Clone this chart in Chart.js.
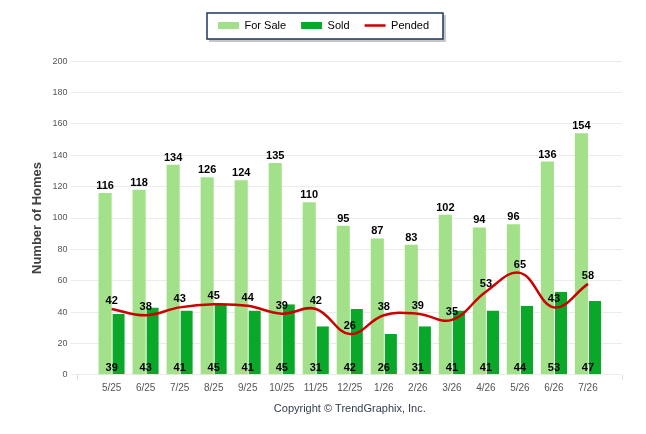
<!DOCTYPE html>
<html>
<head>
<meta charset="utf-8">
<title>Homes For Sale, Sold and Pended</title>
<script src="https://cdn.jsdelivr.net/npm/chart.js@4"></script>
<style>
  html, body { margin: 0; padding: 0; background: #fff; }
  #wrap { width: 646px; height: 434px; }
</style>
</head>
<body>
<div id="wrap"><canvas id="homesChart"></canvas></div>
<script>
const months = ['5/25', '6/25', '7/25', '8/25', '9/25', '10/25', '11/25', '12/25',
                '1/26', '2/26', '3/26', '4/26', '5/26', '6/26', '7/26'];
const forSale = [116, 118, 134, 126, 124, 135, 110, 95, 87, 83, 102, 94, 96, 136, 154];
const sold    = [39, 43, 41, 45, 41, 45, 31, 42, 26, 31, 41, 41, 44, 53, 47];
const pended  = [42, 38, 43, 45, 44, 39, 42, 26, 38, 39, 35, 53, 65, 43, 58];
const yMin = 0, yMax = 200, yStep = 20;

// the original axis keeps one empty slot before the first and after the last month
const labels = ['', ...months, ''];
const padded = arr => [null, ...arr, null];

const FONT = '"Liberation Sans", Arial, sans-serif';

// white box with a navy border and a small shadow behind the legend
const legendBox = {
  id: 'legendBox',
  beforeDraw(chart) {
    const boxes = chart.legend && chart.legend.legendHitBoxes;
    if (!boxes || !boxes.length) return;
    const first = boxes[0], last = boxes[boxes.length - 1];
    const left = first.left - 11;
    const right = last.left + last.width + 14;
    const top = first.top - 7;
    const bottom = first.top + first.height + 8;
    const ctx = chart.ctx;
    ctx.save();
    ctx.fillStyle = 'rgba(0,0,0,0.22)';
    ctx.fillRect(left + 2, top + 2, right - left + 1, bottom - top + 1);
    ctx.fillStyle = '#fff';
    ctx.fillRect(left, top, right - left, bottom - top);
    ctx.strokeStyle = '#1f3560';
    ctx.lineWidth = 1.5;
    ctx.strokeRect(left, top, right - left, bottom - top);
    ctx.restore();
  }
};

// numbers over the bars, at the foot of each month and over the line
const valueLabels = {
  id: 'valueLabels',
  afterDatasetsDraw(chart) {
    const {ctx, scales: {x, y}} = chart;
    ctx.save();
    ctx.font = 'bold 11px ' + FONT;
    ctx.fillStyle = '#000';
    ctx.textAlign = 'center';
    ctx.textBaseline = 'alphabetic';
    chart.data.datasets.forEach((ds, di) => {
      const meta = chart.getDatasetMeta(di);
      meta.data.forEach((el, i) => {
        const v = ds.data[i];
        if (v == null) return;
        if (ds.labelAt === 'base') {
          ctx.fillText(v, x.getPixelForValue(i), y.getPixelForValue(0) - 4);
        } else if (ds.labelAt === 'point') {
          ctx.fillText(v, el.x, el.y - 5);
        } else {
          ctx.fillText(v, el.x, el.y - 4);
        }
      });
    });
    ctx.restore();
  }
};

new Chart(document.getElementById('homesChart'), {
  data: {
    labels: labels,
    datasets: [
      {
        type: 'bar',
        label: 'For Sale',
        data: padded(forSale),
        backgroundColor: '#a2e08a',
        categoryPercentage: 0.77,
        barPercentage: 1.0,
        order: 1,
        labelAt: 'top'
      },
      {
        type: 'bar',
        label: 'Sold',
        data: padded(sold),
        backgroundColor: '#0aa829',
        borderColor: 'rgba(255,255,255,0.6)',
        borderWidth: {left: 1, top: 0, right: 0, bottom: 0},
        borderSkipped: false,
        categoryPercentage: 0.77,
        barPercentage: 1.0,
        order: 1,
        labelAt: 'base'
      },
      {
        type: 'line',
        label: 'Pended',
        data: padded(pended),
        borderColor: '#cc0000',
        backgroundColor: '#cc0000',
        borderWidth: 2.5,
        tension: 0.4,
        pointRadius: 0,
        pointHoverRadius: 0,
        fill: false,
        order: 0,
        labelAt: 'point'
      }
    ]
  },
  options: {
    responsive: true,
    maintainAspectRatio: false,
    animation: false,
    layout: {
      padding: {top: 5, left: 25, right: 24, bottom: 14}
    },
    plugins: {
      legend: {
        position: 'top',
        labels: {
          font: {family: FONT, size: 11},
          color: '#000',
          padding: 15,
          usePointStyle: true,
          pointStyleWidth: 21,
          boxHeight: 7,
          sort: (a, b) => a.datasetIndex - b.datasetIndex,
          generateLabels(chart) {
            return chart.data.datasets.map((ds, i) => ({
              text: ds.label,
              datasetIndex: i,
              fillStyle: ds.type === 'line' ? 'rgba(0,0,0,0)' : ds.backgroundColor,
              strokeStyle: ds.borderColor || ds.backgroundColor,
              lineWidth: ds.type === 'line' ? 2.5 : 0,
              pointStyle: ds.type === 'line' ? 'line' : 'rect',
              fontColor: '#000',
              hidden: !chart.isDatasetVisible(i)
            }));
          }
        }
      },
      // empty block that only makes room between the legend and the plot
      subtitle: {
        display: true,
        text: '',
        weight: 500,
        font: {size: 1},
        padding: {top: 19, bottom: 0}
      },
      tooltip: {enabled: false}
    },
    scales: {
      x: {
        offset: false,
        grid: {
          display: true,
          offset: false,
          drawOnChartArea: false,
          drawTicks: true,
          tickLength: 5,
          color: c => (c.index === 0 || c.index === labels.length - 1) ? '#dddddd' : 'rgba(0,0,0,0)'
        },
        border: {display: false},
        ticks: {
          autoSkip: false,
          maxRotation: 0,
          padding: 2,
          color: '#555',
          font: {family: FONT, size: 10}
        },
        title: {
          display: true,
          text: 'Copyright \u00A9 TrendGraphix, Inc.',
          color: '#333b4d',
          font: {family: FONT, size: 11},
          padding: {top: 7, bottom: 4}
        }
      },
      y: {
        min: yMin,
        max: yMax,
        grid: {
          color: '#ebebeb',
          lineWidth: 1,
          drawTicks: true,
          tickLength: 7
        },
        border: {display: false},
        ticks: {
          stepSize: yStep,
          padding: 3,
          color: '#555',
          font: {family: FONT, size: 9}
        },
        title: {
          display: true,
          text: 'Number of Homes',
          color: '#404040',
          font: {family: FONT, size: 13, weight: 'bold'},
          padding: {top: 5, bottom: 4}
        }
      }
    }
  },
  plugins: [legendBox, valueLabels]
});
</script>
</body>
</html>
